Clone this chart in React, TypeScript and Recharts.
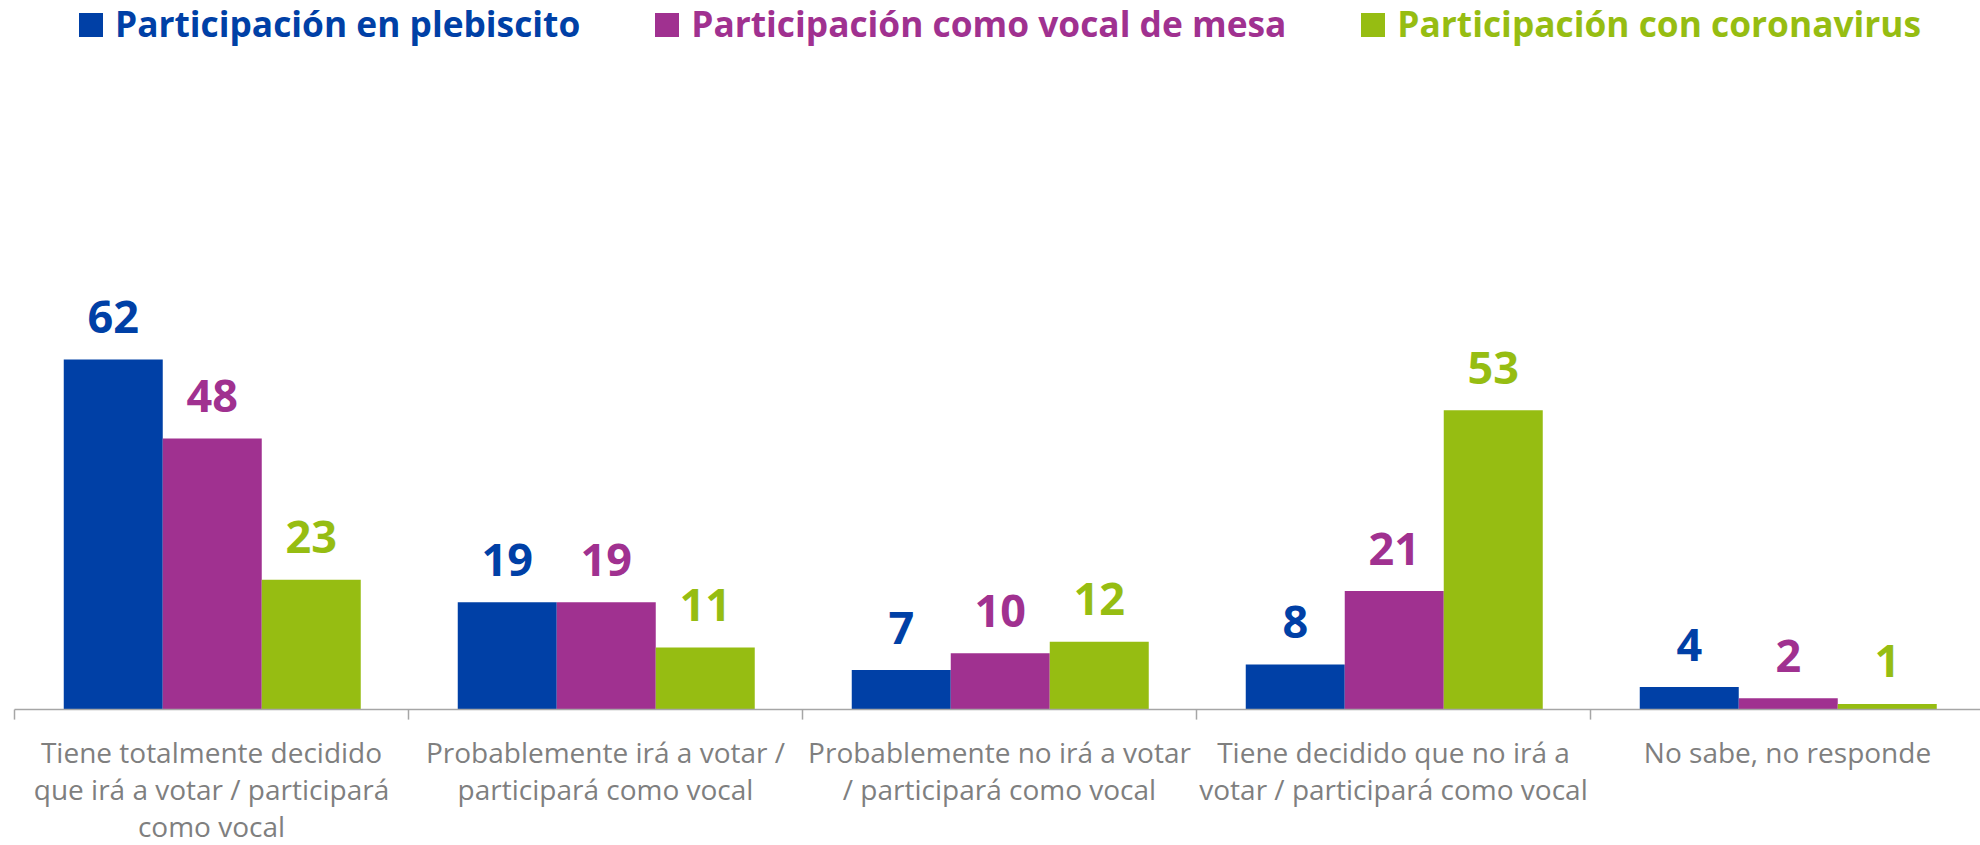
import React from 'react';
import { BarChart, Bar, XAxis, YAxis, LabelList, Legend } from 'recharts';

const CATEGORIES = [
  'Tiene totalmente decidido que irá a votar / participará como vocal',
  'Probablemente irá a votar / participará como vocal',
  'Probablemente no irá a votar / participará como vocal',
  'Tiene decidido que no irá a votar / participará como vocal',
  'No sabe, no responde',
];

const TICK_LINES = [
  ['Tiene totalmente decidido', 'que irá a votar / participará', 'como vocal'],
  ['Probablemente irá a votar /', 'participará como vocal'],
  ['Probablemente no irá a votar', '/ participará como vocal'],
  ['Tiene decidido que no irá a', 'votar / participará como vocal'],
  ['No sabe, no responde'],
];

const PLEBISCITO = [62, 19, 7, 8, 4];
const VOCAL = [48, 19, 10, 21, 2];
const CORONAVIRUS = [23, 11, 12, 53, 1];

const SERIES_KEYS = ['plebiscito', 'vocal', 'coronavirus'];
const SERIES_NAMES = [
  'Participación en plebiscito',
  'Participación como vocal de mesa',
  'Participación con coronavirus',
];
const SERIES_COLORS = ['#0040A6', '#A03190', '#96BD12'];

const data = CATEGORIES.map((name, i) => ({
  name,
  plebiscito: PLEBISCITO[i],
  vocal: VOCAL[i],
  coronavirus: CORONAVIRUS[i],
}));

const FONT = '"Open Sans", sans-serif';
const AXIS_COLOR = '#A6A6A6';

const CategoryTick = (props: any) => {
  const { x, y, payload } = props;
  const lines = TICK_LINES[payload.index] || [];
  const half = payload.offset ?? (props.width ? props.width / CATEGORIES.length / 2 : 0);
  return (
    <g>
      <line x1={x - half} x2={x - half} y1={y} y2={y + 10} stroke={AXIS_COLOR} strokeWidth={1.5} />
      {payload.index === CATEGORIES.length - 1 && (
        <line x1={x + half} x2={x + half} y1={y} y2={y + 10} stroke={AXIS_COLOR} strokeWidth={1.5} />
      )}
      <text x={x} y={y} textAnchor="middle" fill="#7F7F7F" fontSize={28} fontFamily={FONT}>
        {lines.map((l, i) => (
          <tspan key={i} x={x} dy={i === 0 ? 53 : 37}>
            {l}
          </tspan>
        ))}
      </text>
    </g>
  );
};

const renderLegend = () => (
  <div style={{ display: 'flex', alignItems: 'center', paddingLeft: 79, gap: 75, height: 50 }}>
    {SERIES_NAMES.map((n, i) => (
      <div key={n} style={{ display: 'flex', alignItems: 'center', height: 50 }}>
        <span style={{ display: 'inline-block', width: 24, height: 24, background: SERIES_COLORS[i], marginRight: 12 }} />
        <span
          style={{
            fontFamily: FONT,
            fontWeight: 700,
            fontSize: 35.3,
            lineHeight: '50px',
            color: SERIES_COLORS[i],
            position: 'relative',
            top: -2,
            whiteSpace: 'nowrap',
          }}
        >
          {n}
        </span>
      </div>
    ))}
  </div>
);

export default function App() {
  return (
    <div style={{ position: 'absolute', left: 0, top: 0, width: 1980, height: 845, overflow: 'hidden', background: '#fff' }}>
      <BarChart
        width={1985}
        height={845}
        data={data}
        margin={{ top: 145, right: 0.5, bottom: 0, left: 14.5 }}
        barCategoryGap="12.5%"
        barGap={0}
      >
        <XAxis
          dataKey="name"
          height={135.4}
          interval={0}
          tickLine={false}
          tickSize={0}
          tickMargin={0}
          axisLine={{ stroke: AXIS_COLOR, strokeWidth: 1.5 }}
          tick={<CategoryTick />}
        />
        <YAxis hide domain={[0, 100]} />
        <Legend
          layout="horizontal"
          verticalAlign="middle"
          align="center"
          content={renderLegend}
          wrapperStyle={{ top: 0, left: 0, width: 1980, height: 50 }}
        />
        {SERIES_KEYS.map((k, i) => (
          <Bar key={k} dataKey={k} name={SERIES_NAMES[i]} fill={SERIES_COLORS[i]} isAnimationActive={false}>
            <LabelList
              dataKey={k}
              position="top"
              offset={26.5}
              fill={SERIES_COLORS[i]}
              fontSize={45}
              fontWeight={700}
              fontFamily={FONT}
            />
          </Bar>
        ))}
      </BarChart>
    </div>
  );
}
